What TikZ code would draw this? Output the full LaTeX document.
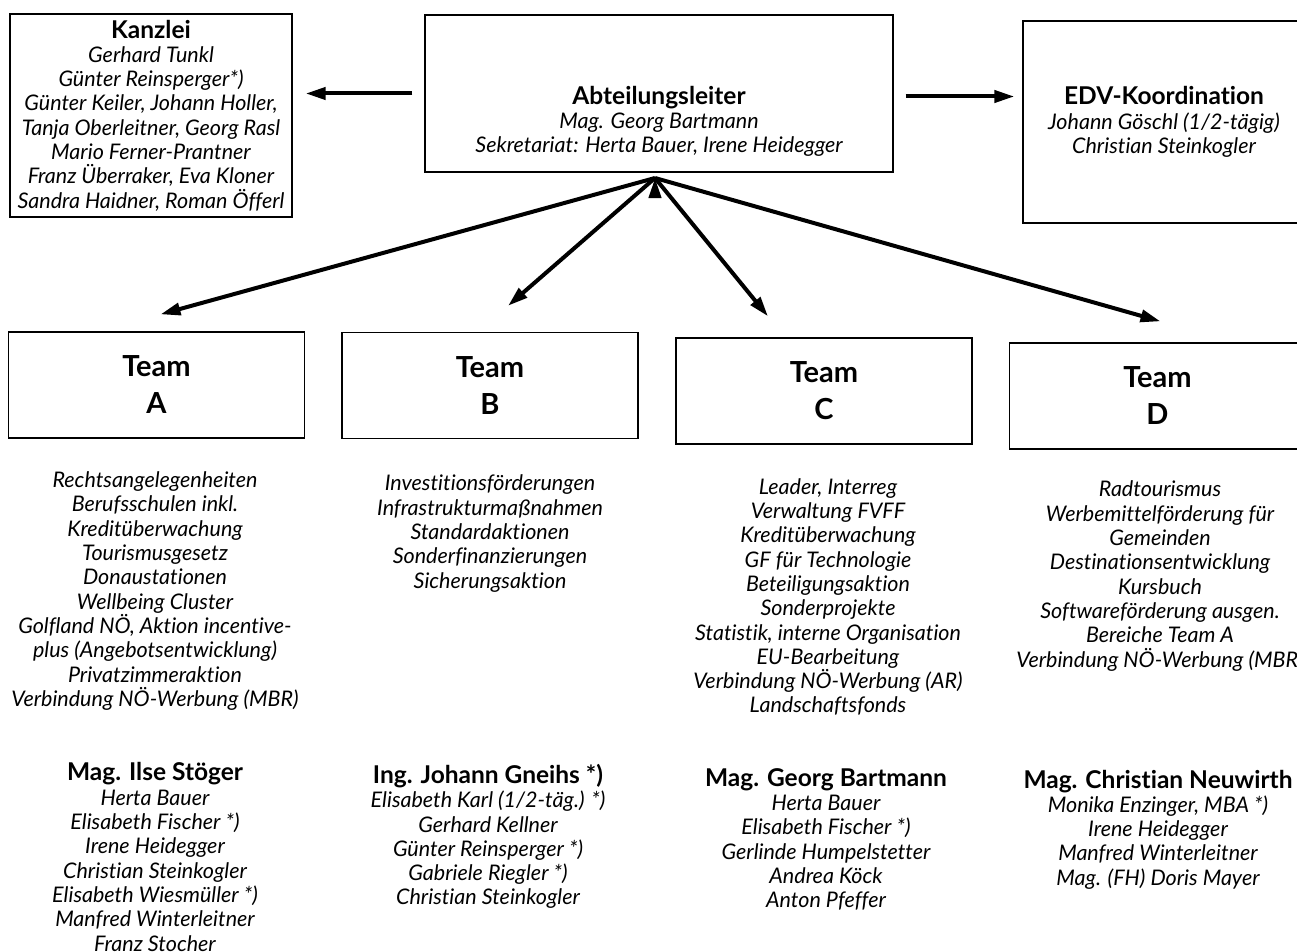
\documentclass[tikz,border=0pt]{standalone}
\usepackage{fontspec}
\setmainfont{Lato}[Ligatures=NoCommon]
\usetikzlibrary{arrows.meta}

\newcommand\kopf[1]{{\fontsize{24.5}{24.3}\selectfont\bfseries\upshape #1}}
\tikzset{
	box/.style={draw,line width=1.3pt,align=center,inner sep=0pt,font=\fontsize{21.5}{24.3}\selectfont\itshape},
	teambox/.style={draw,line width=1.3pt,align=center,minimum width=296pt,minimum height=106pt,font=\fontsize{29}{37}\selectfont\bfseries},
	liste/.style={align=center,font=\fontsize{21.5}{24.3}\selectfont\itshape},
	pfeil/.style={-{Triangle[length=20pt,width=12pt]},line width=4pt}
}

\begin{document}
\begin{tikzpicture}[x=1pt,y=-1pt]
		\useasboundingbox (0,0) rectangle (1297,952);
		\clip (0,0) rectangle (1297,952);
		
		\node[box,minimum width=282pt,minimum height=203pt] (kanzlei) at (151,115.5) {\kopf{Kanzlei}\\
			Gerhard Tunkl\\ Günter Reinsperger*)\\ Günter Keiler, Johann Holler,\\ Tanja Oberleitner, Georg Rasl\\
			Mario Ferner-Prantner\\ Franz Überraker, Eva Kloner\\ Sandra Haidner, Roman Öfferl};
		\node[box,minimum width=468pt,minimum height=157pt] (abt) at (659,93.5) {};
		\node[liste] (abttext) at ([yshift=-28pt]abt.center) {\kopf{Abteilungsleiter}\\
			Mag. Georg Bartmann\\ Sekretariat: Herta Bauer, Irene Heidegger};
		\node[box,minimum width=282pt,minimum height=202pt] (edv) at (1164,122) {\kopf{EDV-Koordination}\\
			Johann Göschl (1/2-tägig)\\ Christian Steinkogler};
		
		\node[teambox] (teamA) at (156.5,385) {Team\\A};
		\node[teambox] (teamB) at (490,385.5) {Team\\B};
		\node[teambox] (teamC) at (824,391) {Team\\C};
		\node[teambox] (teamD) at (1157.5,396) {Team\\D};
		
		\node[liste] (aufgA) at (155,591) {Rechtsangelegenheiten\\ Berufsschulen inkl.\\ Kreditüberwachung\\ Tourismusgesetz\\
			Donaustationen\\ Wellbeing Cluster\\ Golfland NÖ, Aktion incentive-\\ plus (Angebotsentwicklung)\\
			Privatzimmeraktion\\ Verbindung NÖ-Werbung (MBR)};
		\node[liste] (aufgB) at (490,533.5) {Investitionsförderungen\\ Infrastrukturmaßnahmen\\ Standardaktionen\\
			Sonderfinanzierungen\\ Sicherungsaktion};
		\node[liste] (aufgC) at (828,597) {Leader, Interreg\\ Verwaltung FVFF\\ Kreditüberwachung\\ GF für Technologie\\
			Beteiligungsaktion\\ Sonderprojekte\\ Statistik, interne Organisation\\ EU-Bearbeitung\\
			Verbindung NÖ-Werbung (AR)\\ Landschaftsfonds};
		\node[liste] (aufgD) at (1160,576) {Radtourismus\\ Werbemittelförderung für\\ Gemeinden\\ Destinationsentwicklung\\
			Kursbuch\\ Softwareförderung ausgen.\\ Bereiche Team A\\ Verbindung NÖ-Werbung (MBR)};
		
		\node[liste] (persA) at (155,857) {\kopf{Mag. Ilse Stöger}\\ Herta Bauer\\ Elisabeth Fischer *)\\ Irene Heidegger\\
			Christian Steinkogler\\ Elisabeth Wiesmüller *)\\ Manfred Winterleitner\\ Franz Stocher};
		\node[liste] (persB) at (488,836.5) {\kopf{Ing. Johann Gneihs *)}\\ Elisabeth Karl (1/2-täg.) *)\\ Gerhard Kellner\\
			Günter Reinsperger *)\\ Gabriele Riegler *)\\ Christian Steinkogler};
		\node[liste] (persC) at (826,839.5) {\kopf{Mag. Georg Bartmann}\\ Herta Bauer\\ Elisabeth Fischer *)\\
			Gerlinde Humpelstetter\\ Andrea Köck\\ Anton Pfeffer};
		\node[liste] (persD) at (1158,829.5) {\kopf{Mag. Christian Neuwirth}\\ Monika Enzinger, MBA *)\\ Irene Heidegger\\
			Manfred Winterleitner\\ Mag. (FH) Doris Mayer};
		
		\coordinate (fan) at (655,178);
		\draw[pfeil,shorten <=12pt,shorten >=13pt] (abt.west) -- (abt.west -| kanzlei.east);
		\draw[pfeil,shorten <=12pt,shorten >=8pt] ([yshift=-3pt]abt.east) -- ([yshift=-3pt]abt.east -| edv.west);
		\draw[pfeil]
		(fan)edge([xshift=4pt,yshift=17pt]teamA.north)
		(fan)edge([xshift=18pt,yshift=26pt]teamB.north)
		(fan)edge([xshift=-56pt,yshift=21pt]teamC.north)
		(fan)edge([xshift=3pt,yshift=21pt]teamD.north);
\end{tikzpicture}
\end{document}
